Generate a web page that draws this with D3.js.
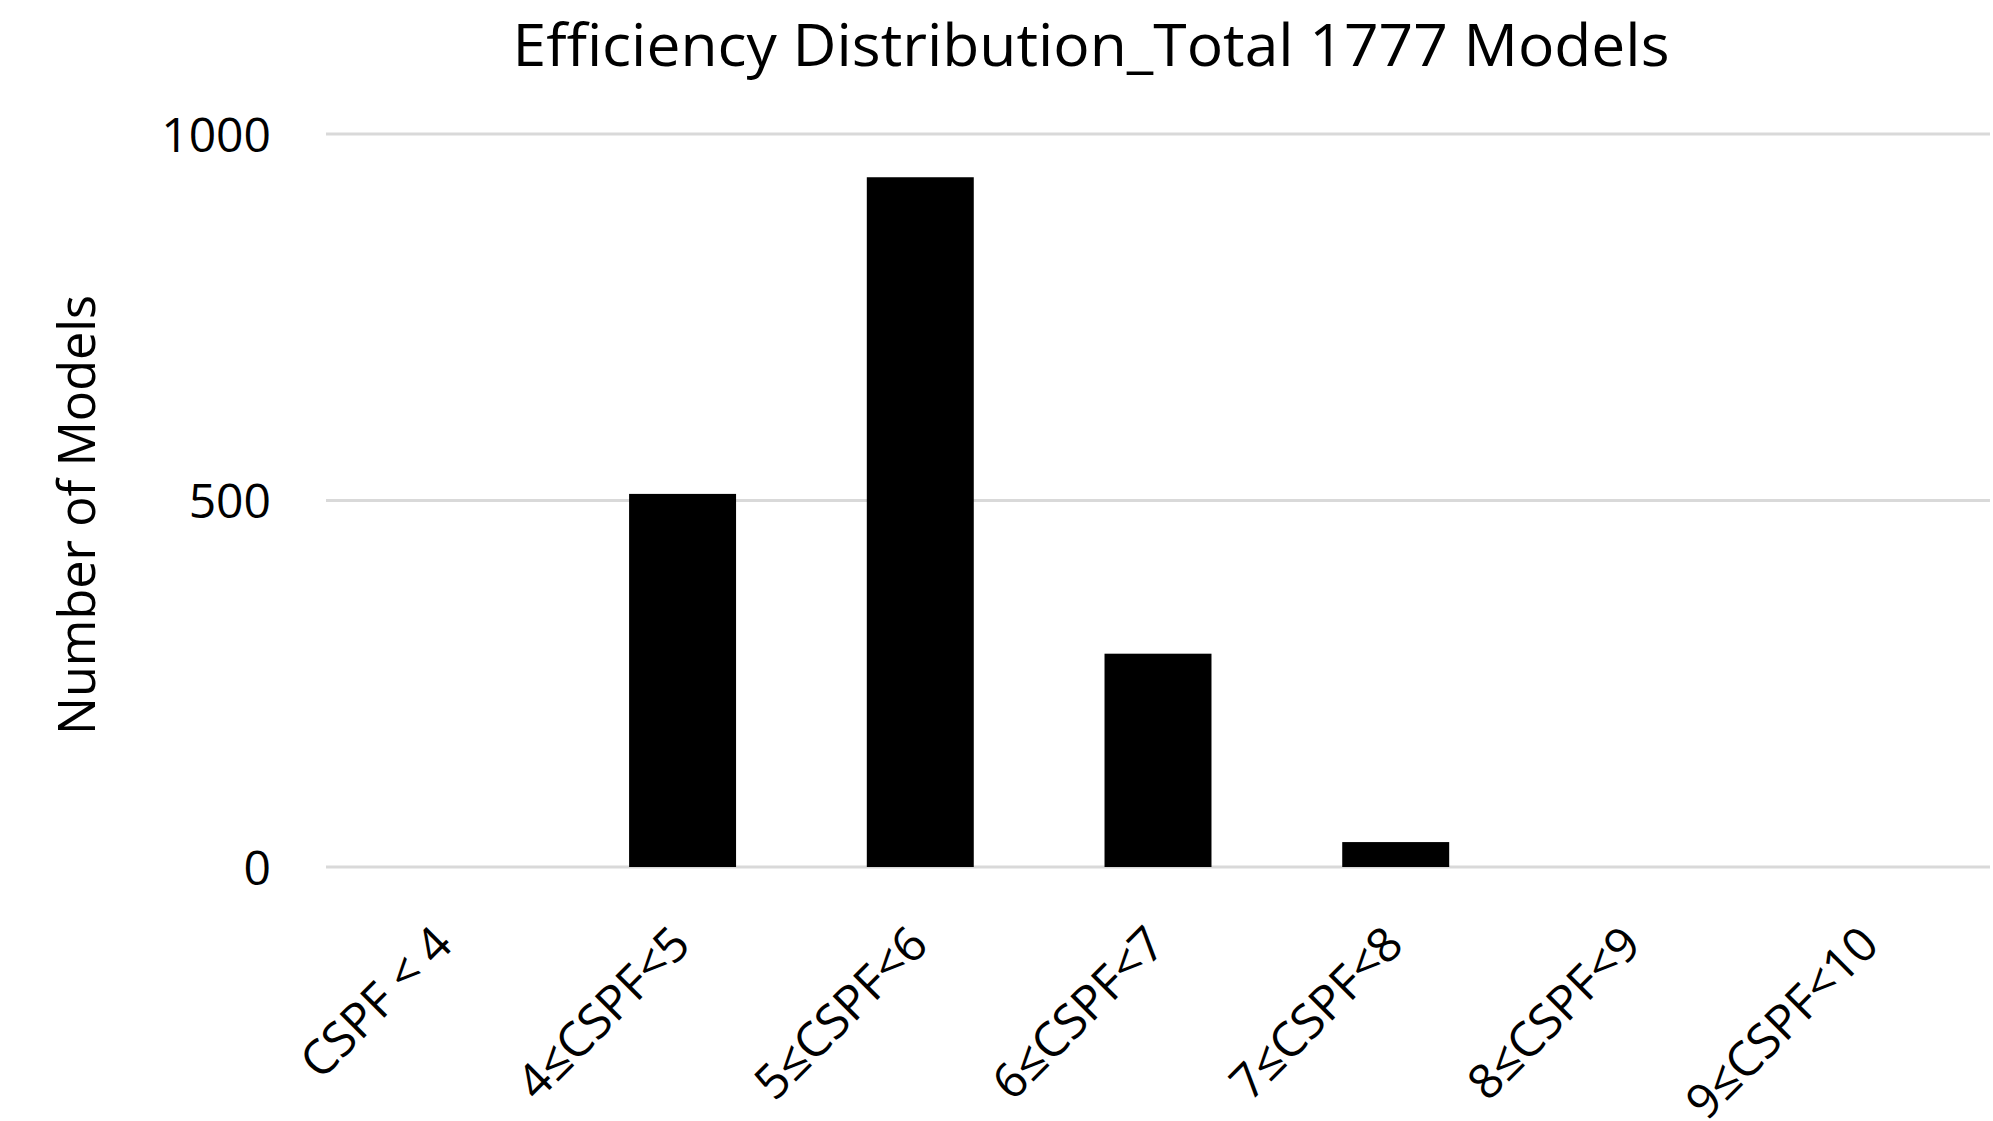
<!DOCTYPE html>
<html>
<head>
<meta charset="utf-8">
<script src="https://cdn.jsdelivr.net/npm/d3@7"></script>
<style>
  html, body { margin: 0; padding: 0; background: #ffffff; }
  svg { display: block; }
  text { font-family: "Open Sans", "Noto Sans", sans-serif; fill: #000; }
</style>
</head>
<body>
<svg id="chart" width="1993" height="1121"></svg>
<script>
// Efficiency bins and number of models in each
const categories = ["CSPF < 4", "4≤CSPF<5", "5≤CSPF<6", "6≤CSPF<7", "7≤CSPF<8", "8≤CSPF<9", "9≤CSPF<10"];
const counts = [0, 509, 941, 291, 34, 0, 0];
const yTicks = [0, 500, 1000];
const titleText = "Efficiency Distribution_Total 1777 Models";
const yLabel = "Number of Models";

const W = 1993, H = 1121;
const plot = { left: 326, right: 1990, top: 134, bottom: 867 };

const svg = d3.select("#chart");

const x = d3.scaleBand()
  .domain(categories)
  .range([plot.left, plot.right])
  .paddingInner(0.55)
  .paddingOuter(0.275);

const y = d3.scaleLinear()
  .domain([0, 1000])
  .range([plot.bottom, plot.top]);

// horizontal gridlines
svg.append("g")
  .selectAll("line")
  .data(yTicks)
  .join("line")
  .attr("x1", plot.left)
  .attr("x2", plot.right)
  .attr("y1", d => y(d))
  .attr("y2", d => y(d))
  .attr("stroke", "#d9d9d9")
  .attr("stroke-width", 3);

// y tick labels
const yAxis = d3.axisLeft(y).tickValues(yTicks).tickFormat(d3.format("d")).tickSize(0).tickPadding(0);
const yg = svg.append("g")
  .attr("transform", `translate(${plot.left - 55},0)`)
  .call(yAxis);
yg.select(".domain").remove();
yg.selectAll("text")
  .attr("font-size", 48)
  .attr("dy", "0.36em")
  .style("font-family", "'Open Sans', sans-serif")
  .attr("fill", "#000");

// bars
svg.append("g")
  .selectAll("rect")
  .data(counts)
  .join("rect")
  .attr("x", (d, i) => x(categories[i]))
  .attr("width", x.bandwidth())
  .attr("y", d => y(d))
  .attr("height", d => y(0) - y(d))
  .attr("fill", "#000");

// category labels, rotated
const xAxis = d3.axisBottom(x).tickSize(0).tickPadding(0);
const xg = svg.append("g")
  .attr("transform", `translate(0,${plot.bottom})`)
  .call(xAxis);
xg.select(".domain").remove();
xg.selectAll(".tick text")
  .attr("font-size", 48)
  .attr("text-anchor", "end")
  .attr("dy", 0)
  .attr("y", 0)
  .attr("transform", "translate(10,80) rotate(-45)")
  .style("font-family", "'Open Sans', sans-serif")
  .attr("fill", "#000");

// title
svg.append("text")
  .attr("x", 1091)
  .attr("y", 66)
  .attr("text-anchor", "middle")
  .attr("font-size", 58)
  .attr("textLength", 1157)
  .attr("lengthAdjust", "spacingAndGlyphs")
  .text(titleText);

// y-axis title
svg.append("text")
  .attr("transform", "translate(95,515) rotate(-90)")
  .attr("text-anchor", "middle")
  .attr("font-size", 52)
  .attr("textLength", 440)
  .attr("lengthAdjust", "spacingAndGlyphs")
  .text(yLabel);
</script>
</body>
</html>
